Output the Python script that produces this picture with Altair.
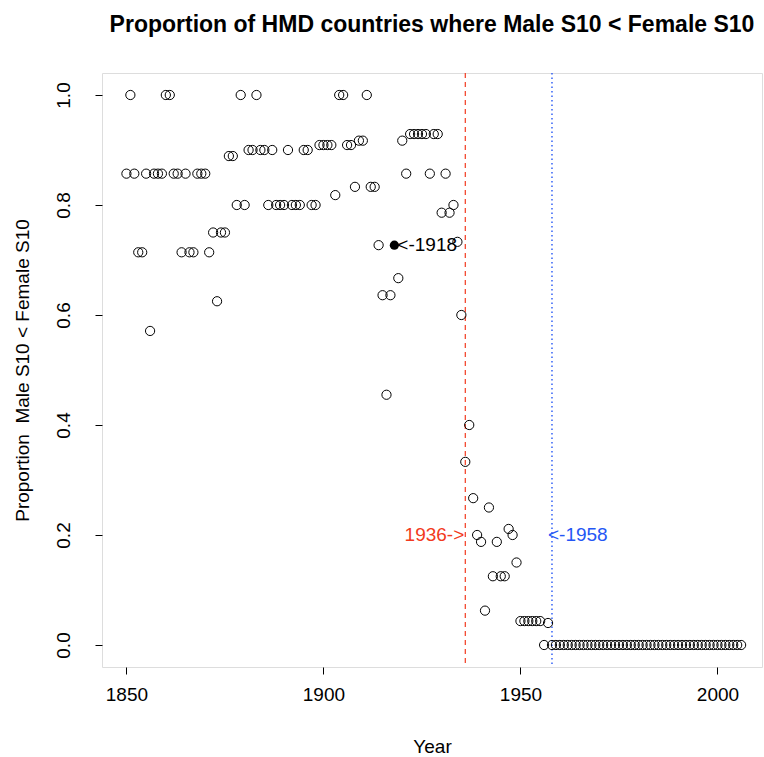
import altair as alt
import pandas as pd

years = list(range(1850, 2007))
values = [
    0.857, 1.0, 0.857, 0.714, 0.714, 0.857, 0.571, 0.857, 0.857, 0.857,   # 1850-1859
    1.0, 1.0, 0.857, 0.857, 0.714, 0.857, 0.714, 0.714, 0.857, 0.857,     # 1860-1869
    0.857, 0.714, 0.75, 0.625, 0.75, 0.75, 0.889, 0.889, 0.8, 1.0,        # 1870-1879
    0.8, 0.9, 0.9, 1.0, 0.9, 0.9, 0.8, 0.9, 0.8, 0.8,                     # 1880-1889
    0.8, 0.9, 0.8, 0.8, 0.8, 0.9, 0.9, 0.8, 0.8, 0.909,                   # 1890-1899
    0.909, 0.909, 0.909, 0.818, 1.0, 1.0, 0.909, 0.909, 0.833, 0.917,     # 1900-1909
    0.917, 1.0, 0.833, 0.833, 0.727, 0.636, 0.455, 0.636, 0.727, 0.667,   # 1910-1919
    0.917, 0.857, 0.929, 0.929, 0.929, 0.929, 0.929, 0.857, 0.929, 0.929, # 1920-1929
    0.786, 0.857, 0.786, 0.8, 0.733, 0.6, 0.333, 0.4, 0.267, 0.2,         # 1930-1939
    0.1875, 0.0625, 0.25, 0.125, 0.1875, 0.125, 0.125, 0.211, 0.2, 0.15,  # 1940-1949
    0.0435, 0.0435, 0.0435, 0.0435, 0.0435, 0.0435, 0.0, 0.04, 0.0, 0.0,  # 1950-1959
] + [0.0] * (2006 - 1960 + 1)                                             # 1960-2006

highlight_year = 1918
line_years = [1936, 1958]
label_texts = ["<-1918", "1936->", "<-1958"]
label_years = [1918, 1936, 1958]
label_values = [0.727, 0.2, 0.2]

x_ticks = [1850, 1900, 1950, 2000]
y_ticks = [0.0, 0.2, 0.4, 0.6, 0.8, 1.0]

RED = "#f23a20"
BLUE = "#2456f5"
FONT = "Liberation Sans"

df = pd.DataFrame({"Year": years, "Prop": values})
df["hl"] = df["Year"] == highlight_year

xscale = alt.Scale(domain=[1843.8, 2011.3], nice=False, zero=False)
yscale = alt.Scale(domain=[-0.04, 1.04], nice=False, zero=False)

xaxis = alt.Axis(values=x_ticks, format="d", title="Year", grid=False, domain=False,
                 tickSize=7, tickColor="black", labelFontSize=19, labelFont=FONT,
                 labelColor="black", labelPadding=11, titleFontSize=19, titleFont=FONT,
                 titleFontWeight="normal", titleColor="black", titlePadding=33,
                 labelFlush=False)
yaxis = alt.Axis(values=y_ticks, format=".1f", title="Proportion\u00a0 Male S10 < Female S10",
                 grid=False, domain=False, tickSize=7, tickColor="black",
                 labelFontSize=19, labelFont=FONT, labelColor="black", labelAngle=270,
                 labelAlign="center", labelBaseline="alphabetic", labelPadding=26,
                 titleFontSize=19, titleFont=FONT, titleFontWeight="normal",
                 titleColor="black", titlePadding=22, labelFlush=False)

base = alt.Chart(df)
open_pts = base.transform_filter("!datum.hl").mark_point(
    shape="circle", filled=False, size=85, color="black", strokeWidth=1, opacity=1
).encode(x=alt.X("Year:Q", scale=xscale, axis=xaxis),
         y=alt.Y("Prop:Q", scale=yscale, axis=yaxis))
filled_pts = base.transform_filter("datum.hl").mark_point(
    shape="circle", filled=True, size=85, color="black", opacity=1
).encode(x=alt.X("Year:Q", scale=xscale), y=alt.Y("Prop:Q", scale=yscale))

lines_df = pd.DataFrame({"Year": line_years})
rule1 = alt.Chart(lines_df).transform_filter(f"datum.Year == {line_years[0]}").mark_rule(
    color=RED, strokeDash=[5, 4], strokeWidth=1.2).encode(x=alt.X("Year:Q", scale=xscale))
rule2 = alt.Chart(lines_df).transform_filter(f"datum.Year == {line_years[1]}").mark_rule(
    color=BLUE, strokeDash=[1.5, 3], strokeWidth=1.4).encode(x=alt.X("Year:Q", scale=xscale))

lab_df = pd.DataFrame({"Year": label_years, "Prop": label_values, "txt": label_texts})
t1 = alt.Chart(lab_df.iloc[[0]]).mark_text(align="left", baseline="middle", dx=3,
        fontSize=19, font=FONT, color="black").encode(
    x=alt.X("Year:Q", scale=xscale), y=alt.Y("Prop:Q", scale=yscale), text="txt:N")
t2 = alt.Chart(lab_df.iloc[[1]]).mark_text(align="right", baseline="middle", dx=-1,
        fontSize=19, font=FONT, color=RED).encode(
    x=alt.X("Year:Q", scale=xscale), y=alt.Y("Prop:Q", scale=yscale), text="txt:N")
t3 = alt.Chart(lab_df.iloc[[2]]).mark_text(align="left", baseline="middle", dx=-4,
        fontSize=19, font=FONT, color=BLUE).encode(
    x=alt.X("Year:Q", scale=xscale), y=alt.Y("Prop:Q", scale=yscale), text="txt:N")

chart = alt.layer(rule1, rule2, open_pts, filled_pts, t1, t2, t3).properties(
    width=660, height=594,
    padding={"left": 102, "top": 73, "right": 2, "bottom": 90},
    autosize=alt.AutoSizeParams(type="none"),
    title=alt.TitleParams("Proportion of HMD countries where Male S10 < Female S10",
                          fontSize=23, fontWeight="bold", font=FONT, color="black",
                          anchor="middle", offset=17, baseline="alphabetic"),
).configure_view(stroke="black", strokeWidth=1).configure(background="white")

chart.save("out.html", embed_options={"renderer": "svg", "actions": False})
